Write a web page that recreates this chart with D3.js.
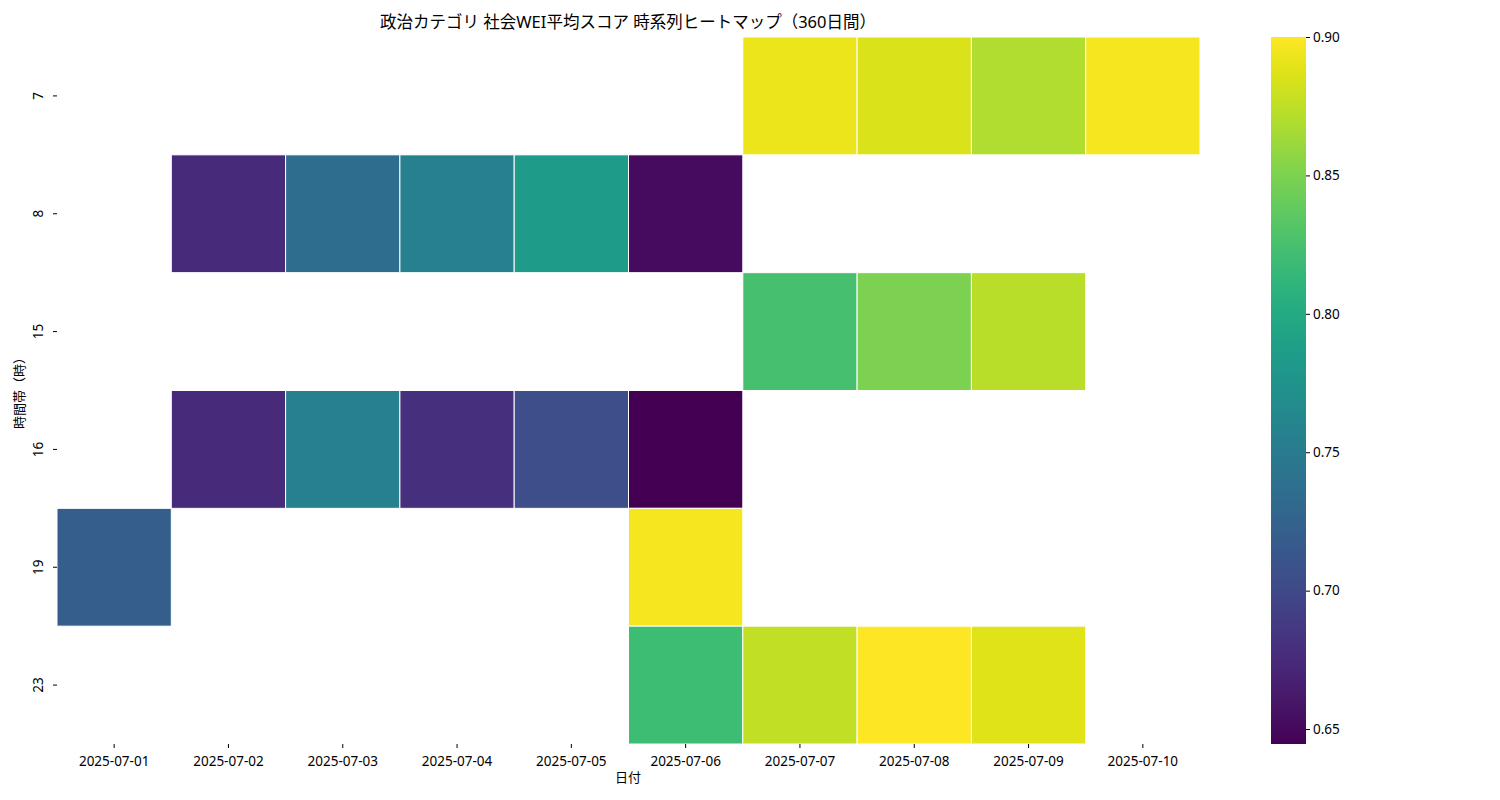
<!DOCTYPE html>
<html><head><meta charset="utf-8">
<script src="https://cdn.jsdelivr.net/npm/d3@7"></script>
<style>body{margin:0;background:#fff;} svg text{font-family:"Noto Sans","Noto Sans CJK JP",sans-serif;}</style>
</head><body><svg id="c" width="1500" height="800"></svg>
<script>
const dates=["2025-07-01","2025-07-02","2025-07-03","2025-07-04","2025-07-05","2025-07-06","2025-07-07","2025-07-08","2025-07-09","2025-07-10"];
const hours=["7","8","15","16","19","23"];
const row7 =[null,null,null,null,null,null,0.893,0.886,0.870,0.897];
const row8 =[null,0.675,0.735,0.755,0.785,0.652,null,null,null,null];
const row15=[null,null,null,null,null,null,0.825,0.850,0.873,null];
const row16=[null,0.675,0.755,0.680,0.705,0.6446,null,null,null,null];
const row19=[0.720,null,null,null,null,0.897,null,null,null,null];
const row23=[null,null,null,null,null,0.820,0.876,0.900,0.888,null];
const rows=[row7,row8,row15,row16,row19,row23];
const cbTicks=[0.65,0.70,0.75,0.80,0.85,0.90];
const vmin=0.6446,vmax=0.900;

const svg=d3.select("#c");
const x=d3.scaleBand().domain(dates).range([57,1200]);
const y=d3.scaleBand().domain(hours).range([37,744]);
const col=d3.scaleSequential(d3.interpolateViridis).domain([vmin,vmax]);
const cells=[];
rows.forEach((r,i)=>r.forEach((v,j)=>{if(v!=null)cells.push({h:hours[i],d:dates[j],v});}));
svg.append("g").selectAll("rect").data(cells).join("rect")
 .attr("x",d=>x(d.d)).attr("y",d=>y(d.h)).attr("width",x.bandwidth()).attr("height",y.bandwidth())
 .attr("fill",d=>col(d.v)).attr("stroke","#fff").attr("stroke-width",1);
const fs="13.5px";
const xa=svg.append("g").attr("transform","translate(0,744)").call(d3.axisBottom(x).tickSize(4));
xa.attr("font-family",null);
xa.select(".domain").remove();
xa.selectAll("text").style("font-size",fs).attr("dy","1.1em");
const ya=svg.append("g").attr("transform","translate(57,0)").call(d3.axisLeft(y).tickSize(4));
ya.attr("font-family",null);
ya.select(".domain").remove();
ya.selectAll(".tick text").style("font-size",fs).attr("x",null).attr("dy","0.35em").attr("text-anchor","middle")
 .attr("transform","translate(-19,0) rotate(-90)");
svg.append("text").attr("x",628).attr("y",28).attr("text-anchor","middle").style("font-size","16.5px").text("政治カテゴリ 社会WEI平均スコア 時系列ヒートマップ（360日間）");
svg.append("text").attr("x",628).attr("y",782).attr("text-anchor","middle").style("font-size","13px").text("日付");
svg.append("text").attr("transform","translate(24,390) rotate(-90)").attr("text-anchor","middle").style("font-size","13px").text("時間帯（時）");
const cy=d3.scaleLinear().domain([vmin,vmax]).range([744,37]);
const defs=svg.append("defs");
const g=defs.append("linearGradient").attr("id","g").attr("x1",0).attr("y1",1).attr("x2",0).attr("y2",0);
d3.range(0,1.001,0.05).forEach(t=>g.append("stop").attr("offset",t).attr("stop-color",d3.interpolateViridis(t)));
svg.append("rect").attr("x",1271).attr("y",37).attr("width",35).attr("height",707).attr("fill","url(#g)");
const ca=svg.append("g").attr("transform","translate(1306,0)").call(d3.axisRight(cy).tickValues(cbTicks).tickFormat(d3.format(".2f")).tickSize(4));
ca.attr("font-family",null);
ca.select(".domain").remove();
ca.selectAll("text").style("font-size",fs);
</script></body></html>
